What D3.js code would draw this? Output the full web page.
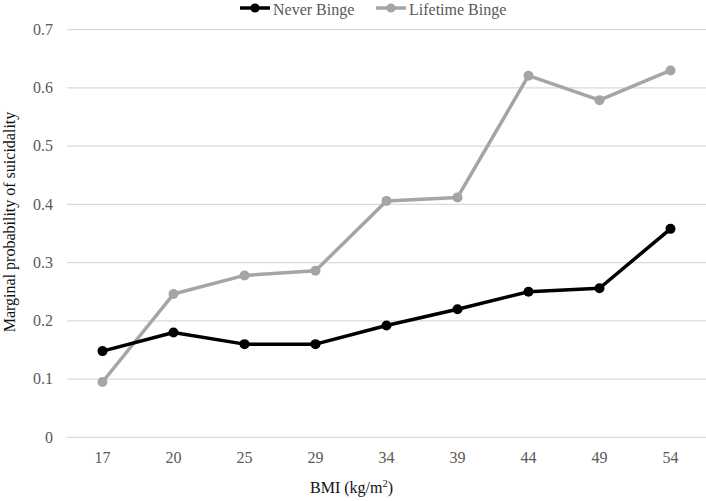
<!DOCTYPE html>
<html><head><meta charset="utf-8">
<script src="https://cdn.jsdelivr.net/npm/d3@7"></script>
<style>body{margin:0;background:#fff}svg{display:block}text{font-family:"Liberation Serif","Times New Roman",serif}</style>
</head><body><svg id="c" width="706" height="501"></svg>
<script>
const categories = ["17","20","25","29","34","39","44","49","54"];
const neverBinge = [0.148,0.180,0.160,0.160,0.192,0.220,0.250,0.256,0.358];
const lifetimeBinge = [0.095,0.246,0.278,0.286,0.406,0.412,0.621,0.579,0.630];
const yTicks = [0,0.1,0.2,0.3,0.4,0.5,0.6,0.7];
const seriesNames = ["Never Binge","Lifetime Binge"];
const colors = ["#000000","#A5A5A5"];

const FONT = "Liberation Serif, Times New Roman, serif";
const svg = d3.select("#c");
const mLeft = 67, mRight = 706, mTop = 29.7, mBottom = 437.3;
const x = d3.scaleBand().domain(categories).range([mLeft, mRight]);
const y = d3.scaleLinear().domain([0,0.7]).range([mBottom, mTop]);

// gridlines
svg.append("g").selectAll("line").data(yTicks).join("line")
  .attr("x1", mLeft).attr("x2", mRight)
  .attr("y1", d=>y(d)).attr("y2", d=>y(d))
  .attr("stroke","#D9D9D9").attr("stroke-width",1.3);

const yAxis = d3.axisLeft(y).tickValues(yTicks).tickSize(0).tickPadding(14).tickFormat(d=>d===0?"0":d3.format(".1f")(d));
const gy = svg.append("g").attr("transform",`translate(${mLeft},0)`).call(yAxis)
  .attr("font-family", FONT).attr("font-size", 16);
gy.select(".domain").remove();
gy.selectAll("text").attr("fill","#595959").attr("dy","0.3em");

const xAxis = d3.axisBottom(x).tickSize(0).tickPadding(14.6);
const gx = svg.append("g").attr("transform",`translate(0,${mBottom})`).call(xAxis)
  .attr("font-family", FONT).attr("font-size", 16);
gx.select(".domain").remove();
gx.selectAll("text").attr("fill","#595959");

const cx = d => x(d) + x.bandwidth()/2;
const line = d3.line().x((d,i)=>cx(categories[i])).y(d=>y(d));
[lifetimeBinge, neverBinge].forEach((vals, k) => {
  const col = k===0 ? colors[1] : colors[0];
  svg.append("path").datum(vals).attr("d", line).attr("fill","none")
    .attr("stroke", col).attr("stroke-width", 3.5).attr("stroke-linejoin","round");
  svg.append("g").selectAll("circle").data(vals).join("circle")
    .attr("cx",(d,i)=>cx(categories[i])).attr("cy",d=>y(d)).attr("r",5).attr("fill",col);
});

// legend
const legX = [240, 376];
seriesNames.forEach((n,i)=>{
  const g = svg.append("g").attr("transform",`translate(${legX[i]},8)`);
  g.append("line").attr("x1",0).attr("x2",30).attr("stroke",colors[i]).attr("stroke-width",3.5);
  g.append("circle").attr("cx",15).attr("r",4.6).attr("fill",colors[i]);
  g.append("text").attr("x",33).attr("y",7).style("font-size","16px").attr("fill","#595959").text(n);
});

// axis titles
svg.append("text").attr("transform","translate(15,222) rotate(-90)").attr("text-anchor","middle")
  .style("font-size","16px").attr("fill","#111").text("Marginal probability of suicidality");
const xt = svg.append("text").attr("x",351.5).attr("y",493).attr("text-anchor","middle").style("font-size","16px").attr("fill","#111");
xt.append("tspan").text("BMI (kg/m");
xt.append("tspan").style("font-size","10.5px").attr("dy",-6).text("2");
xt.append("tspan").attr("dy",6).text(")");
</script></body></html>
